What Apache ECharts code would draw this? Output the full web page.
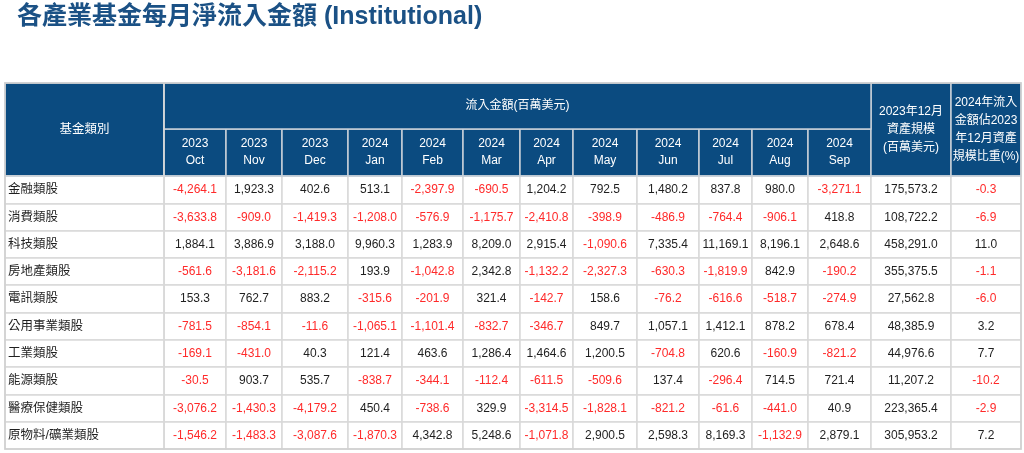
<!DOCTYPE html>
<html>
<head>
<meta charset="utf-8">
<script src="https://cdn.jsdelivr.net/npm/echarts@6/dist/echarts.min.js"></script>
<style>
  html, body { margin: 0; padding: 0; background: #fff; }
  #main { width: 1024px; height: 453px; }
</style>
</head>
<body>
<div id="main"></div>
<script>
// 基金類別
var categories = ['金融類股', '消費類股', '科技類股', '房地產類股', '電訊類股', '公用事業類股', '工業類股', '能源類股', '醫療保健類股', '原物料/礦業類股']
// 月份表頭
var months = ['2023\nOct', '2023\nNov', '2023\nDec', '2024\nJan', '2024\nFeb', '2024\nMar', '2024\nApr', '2024\nMay', '2024\nJun', '2024\nJul', '2024\nAug', '2024\nSep']
// 每月淨流入(百萬美元)
var finance = [-4264.1, 1923.3, 402.6, 513.1, -2397.9, -690.5, 1204.2, 792.5, 1480.2, 837.8, 980.0, -3271.1]
var consumer = [-3633.8, -909.0, -1419.3, -1208.0, -576.9, -1175.7, -2410.8, -398.9, -486.9, -764.4, -906.1, 418.8]
var tech = [1884.1, 3886.9, 3188.0, 9960.3, 1283.9, 8209.0, 2915.4, -1090.6, 7335.4, 11169.1, 8196.1, 2648.6]
var realEstate = [-561.6, -3181.6, -2115.2, 193.9, -1042.8, 2342.8, -1132.2, -2327.3, -630.3, -1819.9, 842.9, -190.2]
var telecom = [153.3, 762.7, 883.2, -315.6, -201.9, 321.4, -142.7, 158.6, -76.2, -616.6, -518.7, -274.9]
var utilities = [-781.5, -854.1, -11.6, -1065.1, -1101.4, -832.7, -346.7, 849.7, 1057.1, 1412.1, 878.2, 678.4]
var industrial = [-169.1, -431.0, 40.3, 121.4, 463.6, 1286.4, 1464.6, 1200.5, -704.8, 620.6, -160.9, -821.2]
var energy = [-30.5, 903.7, 535.7, -838.7, -344.1, -112.4, -611.5, -509.6, 137.4, -296.4, 714.5, 721.4]
var health = [-3076.2, -1430.3, -4179.2, 450.4, -738.6, 329.9, -3314.5, -1828.1, -821.2, -61.6, -441.0, 40.9]
var materials = [-1546.2, -1483.3, -3087.6, -1870.3, 4342.8, 5248.6, -1071.8, 2900.5, 2598.3, 8169.3, -1132.9, 2879.1]
// 2023年12月資產規模(百萬美元)
var assets = [175573.2, 108722.2, 458291.0, 355375.5, 27562.8, 48385.9, 44976.6, 11207.2, 223365.4, 305953.2]
// 2024年流入金額佔比(%)
var ratio = [-0.3, -6.9, 11.0, -1.1, -6.0, 3.2, 7.7, -10.2, -2.9, 7.2]

var flows = [finance, consumer, tech, realEstate, telecom, utilities, industrial, energy, health, materials]

// 欄寬(px)
var monthWidths = [62, 56, 66, 54, 61, 57, 53, 64, 62, 53, 56, 63]
var FONT = '"Liberation Sans", Arial, "Noto Sans CJK TC", sans-serif'
var HEAD_BG = '#0b4b80'
var GRID = '#d9d9d9'
var RED = '#ff2a2a'
var INK = '#1f1f1f'

function fmt (v) {
  return v.toLocaleString('en-US', {minimumFractionDigits: 1, maximumFractionDigits: 1})
}

var xData = [
  {value: '流入金額(百萬美元)', children: months.map(function (m, i) { return {value: m, size: monthWidths[i], label: {lineHeight: 17}} })},
  {value: '2023年12月\n資產規模\n(百萬美元)', size: 80},
  {value: '2024年流入\n金額佔2023\n年12月資產\n規模比重(%)', size: 70}
]

// 表身
var cells = []
flows.forEach(function (row, r) {
  row.forEach(function (v, c) {
    cells.push({coord: [c, r], value: fmt(v), label: {color: v < 0 ? RED : INK}})
  })
  cells.push({coord: [12, r], value: fmt(assets[r]), label: {color: INK}})
  cells.push({coord: [13, r], value: fmt(ratio[r]), label: {color: ratio[r] < 0 ? RED : INK}})
})

var chart = echarts.init(document.getElementById('main'))
chart.setOption({
  animation: false,
  backgroundColor: '#fff',
  title: {
    text: '各產業基金每月淨流入金額 (Institutional)',
    left: 12,
    top: 0,
    textStyle: {fontFamily: FONT, fontSize: 25, fontWeight: 'bold', color: '#1b5185'}
  },
  matrix: {
    left: 5,
    top: 83,
    width: 1016,
    height: 366,
    backgroundStyle: {color: '#fff', borderColor: '#cfcfcf', borderWidth: 1.5},
    x: {
      data: xData,
      levels: [{levelSize: 46}, {levelSize: 47}],
      itemStyle: {color: HEAD_BG, borderColor: '#c8d0d8', borderWidth: 1.5},
      label: {color: '#fff', fontFamily: FONT, fontSize: 12, lineHeight: 18, overflow: 'none'},
      dividerLineStyle: {color: '#c8d0d8', width: 1.5}
    },
    y: {
      data: categories,
      levelSize: 159,
      itemStyle: {color: '#fff', borderColor: GRID, borderWidth: 1.5},
      label: {color: INK, fontFamily: FONT, fontSize: 12.5, position: 'insideLeft', padding: [0, 0, 0, 3], overflow: 'none'},
      dividerLineStyle: {color: GRID, width: 1.5}
    },
    corner: {
      data: [{coord: [-1, [-2, -1]], mergeCells: true, value: '基金類別'}],
      itemStyle: {color: HEAD_BG, borderColor: '#c8d0d8', borderWidth: 1.5},
      label: {color: '#fff', fontFamily: FONT, fontSize: 12.5, overflow: 'none'}
    },
    body: {
      data: cells,
      itemStyle: {color: '#fff', borderColor: GRID, borderWidth: 1.5},
      label: {fontFamily: FONT, fontSize: 12, color: INK, overflow: 'none'}
    }
  }
})
</script>
</body>
</html>
